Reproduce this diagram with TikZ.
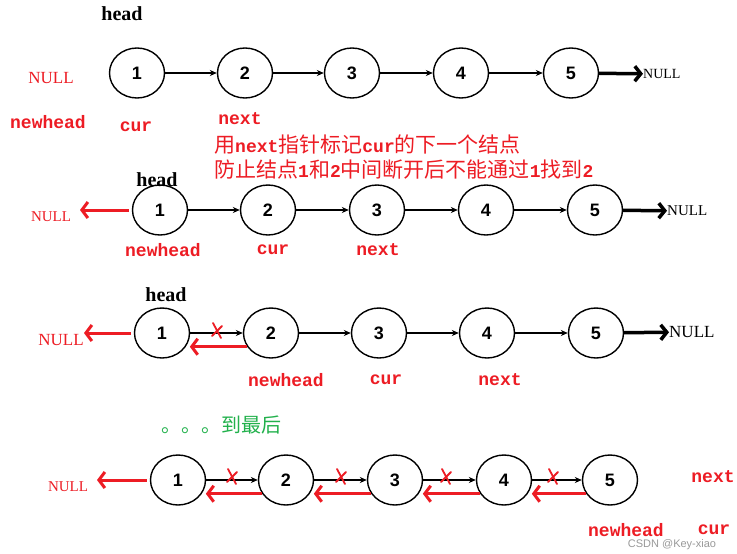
\documentclass[tikz,border=0pt]{standalone}
\usepackage{fontspec}
\setmainfont{Liberation Serif}
\newfontfamily\cjk{Noto Sans CJK SC}
\newfontfamily\numfont{Liberation Sans}
\newfontfamily\lblmono{Liberation Mono}
\usetikzlibrary{shapes.geometric,arrows.meta}
\definecolor{myred}{RGB}{237,28,36}
\definecolor{mygreen}{RGB}{34,177,76}
\newcommand\redx[2]{%
  \draw[xm] ({#1-4},{#2-8}) -- ({#1+4},{#2+7});
  \draw[xm] ({#1+5},{#2-5}) -- ({#1-5},{#2+5});}
\newcommand\cnlat[1]{{\lblmono\bfseries\fontsize{18}{18}\selectfont #1}}
\begin{document}
\begin{tikzpicture}[x=1pt,y=-1pt,
  lnode/.style={ellipse,draw,line width=1.4pt,minimum width=55pt,minimum height=50pt,inner sep=0pt,font=\numfont\bfseries\fontsize{18}{18}\selectfont},
  link/.style={-{Stealth[length=7pt,width=6pt]},line width=1.1pt},
  nullarr/.style={-{Straight Barb[length=6pt,width=15pt]},line width=3.5pt},
  redarr/.style={myred,line width=3pt,-{Straight Barb[length=6pt,width=16pt]}},
  xm/.style={myred,line width=1.8pt,line cap=round},
  redlbl/.style={text=myred,font=\lblmono\bfseries\fontsize{18}{18}\selectfont,inner sep=0pt},
  rednull/.style={text=myred,font=\fontsize{#1}{#1}\selectfont,inner sep=0pt},
  blknull/.style={font=\fontsize{#1}{#1}\selectfont,inner sep=0pt,anchor=west},
  headlbl/.style={font=\bfseries\fontsize{20}{20}\selectfont,inner sep=0pt},
  cn/.style={text=myred,font=\cjk\fontsize{21}{21}\selectfont,inner sep=0pt,anchor=west}
]
\useasboundingbox[fill=white] (0,0) rectangle (737,554);

% ---------- Row 1 ----------
\node[lnode] (r1a) at (137,73) {1};
\node[lnode] (r1b) at (245,73) {2};
\node[lnode] (r1c) at (352,73) {3};
\node[lnode] (r1d) at (461,73) {4};
\node[lnode] (r1e) at (571,73) {5};
\draw[link] (r1a) -- (r1b);
\draw[link] (r1b) -- (r1c);
\draw[link] (r1c) -- (r1d);
\draw[link] (r1d) -- (r1e);
\node[blknull=14] (r1null) at (643,74) {NULL};
\draw[nullarr] (r1e) -- (r1null);
\node[headlbl] (r1head) at (122,14) {head};
\node[rednull=17] (r1rnull) at (51,78) {NULL};
\node[redlbl] (r1newhead) at (48,122) {newhead};
\node[redlbl] (r1cur) at (136,127) {cur};
\node[redlbl] (r1next) at (240,119) {next};
\node[cn] (cn1) at (214,145) {用\cnlat{next}指针标记\cnlat{cur}的下一个结点};
\node[cn] (cn2) at (214,170) {防止结点\cnlat{1}和\cnlat{2}中间断开后不能通过\cnlat{1}找到\cnlat{2}};

% ---------- Row 2 ----------
\node[lnode] (r2a) at (160,210) {1};
\node[lnode] (r2b) at (268,210) {2};
\node[lnode] (r2c) at (377,210) {3};
\node[lnode] (r2d) at (486,210) {4};
\node[lnode] (r2e) at (595,210) {5};
\draw[link] (r2a) -- (r2b);
\draw[link] (r2b) -- (r2c);
\draw[link] (r2c) -- (r2d);
\draw[link] (r2d) -- (r2e);
\node[blknull=15] (r2null) at (667,211) {NULL};
\draw[nullarr] (r2e) -- (r2null);
\node[headlbl] (r2head) at (157,180) {head};
\node[rednull=15] (r2rnull) at (51,217) {NULL};
\coordinate (r2tip) at (80,210);
\draw[redarr] ([xshift=-3pt]r2a.west) -- (r2tip);
\node[redlbl] (r2newhead) at (163,250) {newhead};
\node[redlbl] (r2cur) at (273,250) {cur};
\node[redlbl] (r2next) at (378,250) {next};

% ---------- Row 3 ----------
\node[lnode] (r3a) at (162,333) {1};
\node[lnode] (r3b) at (271,333) {2};
\node[lnode] (r3c) at (379,333) {3};
\node[lnode] (r3d) at (487,333) {4};
\node[lnode] (r3e) at (596,333) {5};
\draw[link] (r3a) -- (r3b);
\draw[link] (r3b) -- (r3c);
\draw[link] (r3c) -- (r3d);
\draw[link] (r3d) -- (r3e);
\node[blknull=17] (r3null) at (669,332) {NULL};
\draw[nullarr] (r3e) -- (r3null);
\node[headlbl] (r3head) at (166,295) {head};
\node[rednull=17] (r3rnull) at (61,340) {NULL};
\coordinate (r3tip) at (84,333);
\draw[redarr] ([xshift=-3pt]r3a.west) -- (r3tip);
\draw[redarr] (r3b.210) -- ([xshift=4pt]r3a.-30);
\redx{217}{331}
\node[redlbl] (r3newhead) at (286,380) {newhead};
\node[redlbl] (r3cur) at (386,380) {cur};
\node[redlbl] (r3next) at (500,380) {next};

% ---------- middle text ----------
\node[text=mygreen,font=\cjk\fontsize{20}{20}\selectfont,inner sep=0pt] (dots) at (221,425) {。。。到最后};

% ---------- Row 4 ----------
\node[lnode] (r4a) at (178,480) {1};
\node[lnode] (r4b) at (286,480) {2};
\node[lnode] (r4c) at (395,480) {3};
\node[lnode] (r4d) at (504,480) {4};
\node[lnode] (r4e) at (610,480) {5};
\draw[link] (r4a) -- (r4b);
\draw[link] (r4b) -- (r4c);
\draw[link] (r4c) -- (r4d);
\draw[link] (r4d) -- (r4e);
\draw[redarr] (r4b.210) -- ([xshift=4pt]r4a.-30);
\draw[redarr] (r4c.210) -- ([xshift=4pt]r4b.-30);
\draw[redarr] (r4d.210) -- ([xshift=4pt]r4c.-30);
\draw[redarr] (r4e.210) -- ([xshift=4pt]r4d.-30);
\redx{232}{477}
\redx{341}{477}
\redx{446}{477}
\redx{553}{477}
\node[rednull=15] (r4rnull) at (68,487) {NULL};
\coordinate (r4tip) at (97,480);
\draw[redarr] ([xshift=-3pt]r4a.west) -- (r4tip);
\node[redlbl] (r4next) at (713,477) {next};
\node[redlbl] (r4newhead) at (626,530) {newhead};
\node[redlbl] (r4cur) at (714,530) {cur};
\node[text=black!40,font=\numfont\fontsize{11}{11}\selectfont,inner sep=0pt] (wm) at (672,545) {CSDN @Key-xiao};
\end{tikzpicture}
\end{document}
